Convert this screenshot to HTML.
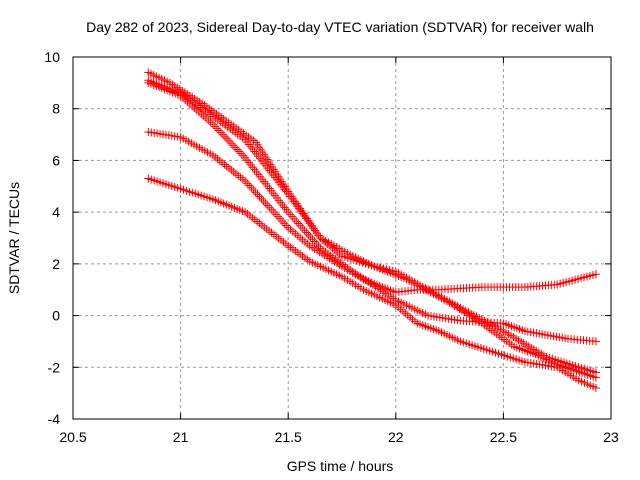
<!DOCTYPE html>
<html><head><meta charset="utf-8"><style>
body{margin:0;background:#fff}
svg{display:block;font-family:"Liberation Sans",sans-serif}
</style></head><body>
<svg id="chart" width="640" height="480" viewBox="0 0 640 480">
<text x="340" y="32" font-size="14" text-anchor="middle">Day 282 of 2023, Sidereal Day-to-day VTEC variation (SDTVAR) for receiver walh</text>
<g id="grid"></g>
<g id="axes"></g>
<g id="series"></g>
<text x="340" y="471" font-size="14" text-anchor="middle">GPS time / hours</text>
<text transform="translate(19,238) rotate(-90)" font-size="14" text-anchor="middle">SDTVAR / TECUs</text>
</svg>
<script>
const xTicks=[20.5,21,21.5,22,22.5,23];
const yTicks=[-4,-2,0,2,4,6,8,10];
const s1x=[20.85,20.95,21.1,21.2,21.35,21.5,21.65,21.75,21.9,22.0,22.15,22.3,22.5,22.7,22.93];
const s1y=[9.4,9.0,8.2,7.6,6.7,4.8,3.0,2.3,1.9,1.7,1.0,0.3,-0.6,-1.6,-2.2];
const s2x=[20.85,21.0,21.15,21.3,21.5,21.65,21.8,22.0,22.15,22.3,22.5,22.6,22.8,22.93];
const s2y=[9.0,8.5,7.4,6.1,4.0,2.6,1.7,0.6,0.0,-0.2,-0.3,-0.6,-0.9,-1.0];
const s3x=[20.85,21.0,21.15,21.3,21.5,21.6,21.75,21.85,22.0,22.1,22.2,22.4,22.6,22.75,22.93];
const s3y=[7.1,6.9,6.2,5.2,3.4,2.7,1.9,1.4,0.9,1.0,1.0,1.1,1.1,1.2,1.6];
const s4x=[20.85,21.0,21.15,21.3,21.5,21.6,21.75,21.85,22.0,22.1,22.2,22.3,22.45,22.6,22.75,22.85,22.93];
const s4y=[5.3,4.9,4.5,4.0,2.7,2.1,1.5,1.0,0.4,-0.3,-0.6,-1.0,-1.4,-1.8,-2.0,-2.5,-2.8];
const s5x=[20.85,21.0,21.15,21.3,21.5,21.65,21.8,21.9,22.05,22.25,22.4,22.55,22.65,22.75,22.93];
const s5y=[9.1,8.6,7.7,6.8,4.7,3.0,2.3,1.9,1.4,0.5,-0.3,-1.2,-1.5,-1.9,-2.4];
const series=[[s1x,s1y],[s2x,s2y],[s3x,s3y],[s4x,s4y],[s5x,s5y]];
const L=73,R=611,T=57,B=419,x0=20.5,x1=23,y0=-4,y1=10;
const X=v=>L+(v-x0)/(x1-x0)*(R-L);
const Y=v=>B-(v-y0)/(y1-y0)*(B-T);
const NS="http://www.w3.org/2000/svg";
function mk(tag,at,parent){const e=document.createElementNS(NS,tag);for(const k in at)e.setAttribute(k,at[k]);parent.appendChild(e);return e;}
const grid=document.getElementById('grid'),axes=document.getElementById('axes'),ser=document.getElementById('series');
xTicks.forEach(t=>{
 if(t>x0&&t<x1){const g=mk('line',{x1:X(t),x2:X(t),y1:T,y2:B,stroke:'#999','stroke-dasharray':'3,3'},grid);
 
 }
 mk('line',{x1:X(t),x2:X(t),y1:B,y2:B-6,stroke:'#000'},axes);
 mk('line',{x1:X(t),x2:X(t),y1:T,y2:T+6,stroke:'#000'},axes);
 const tx=mk('text',{x:X(t),y:B+23,'font-size':14,'text-anchor':'middle'},axes);tx.textContent=t;
 
 
});
yTicks.forEach(t=>{
 if(t>y0&&t<y1){const g=mk('line',{x1:L,x2:R,y1:Y(t),y2:Y(t),stroke:'#999','stroke-dasharray':'3,3'},grid);
 
 }
 mk('line',{x1:L,x2:L+6,y1:Y(t),y2:Y(t),stroke:'#000'},axes);
 mk('line',{x1:R,x2:R-6,y1:Y(t),y2:Y(t),stroke:'#000'},axes);
 const tx=mk('text',{x:L-13,y:Y(t)+5,'font-size':14,'text-anchor':'end'},axes);tx.textContent=t;
 
 
});
mk('rect',{x:L,y:T,width:R-L,height:B-T,fill:'none',stroke:'#000'},axes);
series.forEach(([xs,ys],i)=>{
 const g=mk('g',{},ser);
 
 
 let d='';
 for(let k=0;k<xs.length-1;k++){
  const ax=X(xs[k]),ay=Y(ys[k]),bx=X(xs[k+1]),by=Y(ys[k+1]);
  const n=Math.max(1,Math.round(Math.hypot(bx-ax,by-ay)/3));
  for(let j=0;j<n;j++){const px=ax+(bx-ax)*j/n,py=ay+(by-ay)*j/n;d+=`M${px-4} ${py}h8M${px} ${py-4}v8`;}
 }
 d+=`M${X(xs[xs.length-1])-4} ${Y(ys[ys.length-1])}h8M${X(xs[xs.length-1])} ${Y(ys[ys.length-1])-4}v8`;
 mk('path',{d:d,stroke:'#f00','stroke-width':1,fill:'none'},g);
});
</script>
</body></html>
